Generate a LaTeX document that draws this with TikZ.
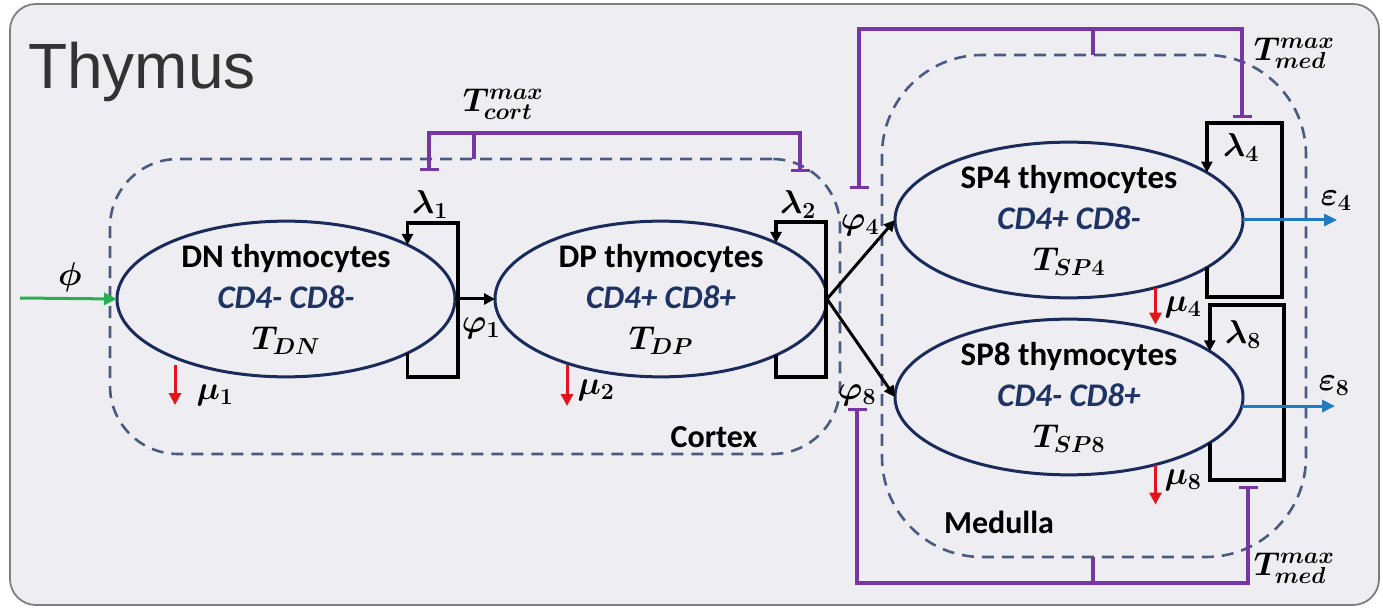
\RequirePackage{fix-cm}
\documentclass[tikz,border=0pt]{standalone}
\usepackage{fontspec}
\usepackage{bm}
\newfontfamily\calib{Carlito}
\newfontfamily\arialf{Liberation Sans}
\usetikzlibrary{arrows.meta,shapes.geometric,calc}
\definecolor{bgc}{HTML}{EEEEF2}
\definecolor{framec}{HTML}{7F7F7F}
\definecolor{thyc}{HTML}{333333}
\definecolor{dashc}{HTML}{4A5B80}
\definecolor{ellc}{HTML}{1A2A5A}
\definecolor{cdc}{HTML}{1F3464}
\definecolor{purc}{HTML}{7636A6}
\definecolor{grnc}{HTML}{27AE4F}
\definecolor{bluc}{HTML}{1F7AC1}
\definecolor{redc}{HTML}{E3151B}
\newcommand\celltext[3]{{\calib\bfseries #1}\\{\calib\bfseries\itshape\color{cdc}#2}\\{\fontsize{33}{41}\selectfont$\bm{T_{#3}}$}}
\tikzset{
 cell/.style={ellipse, draw=ellc, line width=3pt, inner sep=0pt, outer sep=0pt, align=center, font=\fontsize{33}{41}\selectfont},
 zone/.style={draw=dashc, line width=2.6pt, dash pattern=on 12pt off 8pt, inner sep=0pt, outer sep=0pt},
 lbl/.style={inner sep=0pt, font=\fontsize{33}{38}\selectfont},
 zonetext/.style={inner sep=0pt, font=\calib\bfseries\fontsize{32}{36}\selectfont},
 loopln/.style={draw=black, line width=3.6pt, -{Triangle[length=11pt,width=11pt]}},
 blkarr/.style={draw=black, line width=3pt, -{Triangle[length=11pt,width=11pt]}},
 redarr/.style={draw=redc, line width=3pt, -{Triangle[length=12pt,width=12pt]}},
 bluarr/.style={draw=bluc, line width=3pt, -{Triangle[length=13pt,width=12pt]}},
 grnarr/.style={draw=grnc, line width=3pt, -{Triangle[length=13pt,width=12pt]}},
 purp/.style={draw=purc, line width=3.4pt},
 purpbars/.style={purp, {Bar[width=19pt]}-{Bar[width=19pt]}}
}
\begin{document}
\begin{tikzpicture}[x=1pt,y=-1pt]
\useasboundingbox (0,0) rectangle (1383,609);
% frame
\draw[draw=framec, fill=bgc, line width=1.8pt, rounded corners=26pt] (10,4) rectangle (1379,605);
\node[anchor=base west, inner sep=0pt, text=thyc, font=\arialf\fontsize{64}{70}\selectfont] (title) at (28,89) {Thymus};
% zones
\node[zone, rounded corners=68pt, minimum width=730pt, minimum height=295pt] (cortex) at (475,306.5) {};
\node[zone, rounded corners=100pt, minimum width=424pt, minimum height=502pt] (medulla) at (1094,306) {};
\node[zonetext] (ctxlbl) at (714,437) {Cortex};
\node[zonetext] (medlbl) at (999,522) {Medulla};
% cells
\node[cell, minimum width=338pt, minimum height=148pt] (dn) at (286,299) {\celltext{DN thymocytes}{CD4- CD8-}{DN}};
\node[cell, minimum width=332pt, minimum height=148pt] (dp) at (661,299) {\celltext{DP thymocytes}{CD4+ CD8+}{DP}};
\node[cell, minimum width=348pt, minimum height=150pt] (sp4) at (1069,220) {\celltext{SP4 thymocytes}{CD4+ CD8-}{SP4}};
\node[cell, minimum width=348pt, minimum height=150pt] (sp8) at (1069,397) {\celltext{SP8 thymocytes}{CD4- CD8+}{SP8}};
% labels
\node[lbl] (phi) at (70,277) {$\bm{\phi}$};
\node[lbl] (lam1) at (430,205) {$\bm{\lambda_1}$};
\node[lbl] (phi1) at (481,328) {$\bm{\varphi_1}$};
\node[lbl] (mu1) at (215,395) {$\bm{\mu_1}$};
\node[lbl] (mu2) at (596,390) {$\bm{\mu_2}$};
\node[lbl] (lam2) at (798,205) {$\bm{\lambda_2}$};
\node[lbl] (phi4) at (860,225) {$\bm{\varphi_4}$};
\node[lbl] (phi8) at (857,395) {$\bm{\varphi_8}$};
\node[lbl] (lam4) at (1241,148) {$\bm{\lambda_4}$};
\node[lbl] (lam8) at (1243,335) {$\bm{\lambda_8}$};
\node[lbl] (mu4) at (1183,307) {$\bm{\mu_4}$};
\node[lbl] (mu8) at (1183,480) {$\bm{\mu_8}$};
\node[lbl] (eps4) at (1336,201) {$\bm{\varepsilon_4}$};
\node[lbl] (eps8) at (1334,386) {$\bm{\varepsilon_8}$};
\node[lbl] (tcort) at (503,104) {$\bm{T^{max}_{cort}}$};
\node[lbl] (tmed1) at (1294,53) {$\bm{T^{max}_{med}}$};
\node[lbl] (tmed2) at (1294,568) {$\bm{T^{max}_{med}}$};
% input
\coordinate (phiin) at (20,298);
\draw[grnarr] (phiin) -- (dn.west);
% transitions
\draw[blkarr] (dn.east) -- (dp.west);
\draw[blkarr] (dp.east) -- (sp4.west);
\draw[blkarr] (dp.east) -- (sp8.west);
% self loops
\coordinate (dnBR) at (458,377); \coordinate (dnTR) at (458,223);
\draw[loopln] (dn.-24.5) |- (dnBR) -- (dnTR) -| (dn.24.5);
\coordinate (dpBR) at (826,377); \coordinate (dpTR) at (826,222);
\draw[loopln] (dp.-26) |- (dpBR) -- (dpTR) -| (dp.26);
\coordinate (sp4BR) at (1282,297); \coordinate (sp4TR) at (1282,123);
\draw[loopln] (sp4.-19) |- (sp4BR) -- (sp4TR) -| (sp4.19);
\coordinate (sp8BR) at (1284,480); \coordinate (sp8TR) at (1284,305);
\draw[loopln] (sp8.-18.5) |- (sp8BR) -- (sp8TR) -| (sp8.18.5);
% death
\coordinate (mu1s) at (175,365);
\draw[redarr] (mu1s) -- ++(0,40);
\coordinate (mu2s) at (567,365);
\draw[redarr] (mu2s) -- ++(0,41);
\draw[redarr] (sp4.-38) -- ++(0,37);
\draw[redarr] (sp8.-38) -- ++(0,40);
% export
\coordinate (e4end) at (1337,220);
\draw[bluarr] (sp4.east) -- (e4end);
\coordinate (e8end) at (1335,406);
\draw[bluarr] (sp8.-3) -- (sp8.-3 -| e8end);
% inhibition brackets
\coordinate (cortL) at (429,171); \coordinate (cortM) at (474,133); \coordinate (cortR) at (800,172);
\draw[purpbars] (cortL) |- (cortM) -| (cortR);
\draw[purp] (cortM) -- (cortM |- cortex.north);
\coordinate (medTL) at (859,189); \coordinate (medTM) at (1093,29); \coordinate (medTR) at (1242,118);
\draw[purpbars] (medTL) |- (medTM) -| (medTR);
\draw[purp] (medTM) -- (medTM |- medulla.north);
\coordinate (medBL) at (857,408); \coordinate (medBM) at (1093,583); \coordinate (medBR) at (1248,486);
\draw[purpbars] (medBL) |- (medBM) -| (medBR);
\draw[purp] (medBM) -- (medBM |- medulla.south);
\end{tikzpicture}
\end{document}
